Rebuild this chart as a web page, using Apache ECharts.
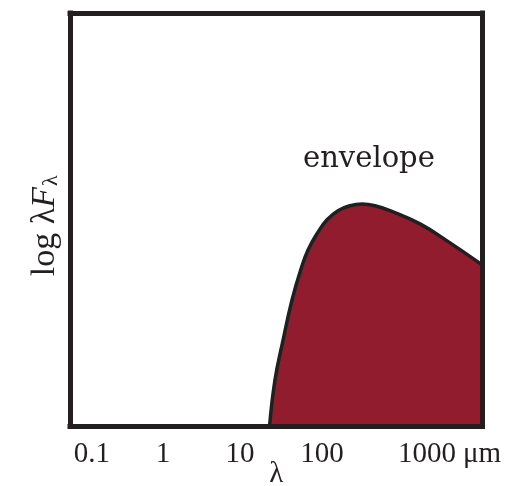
<!DOCTYPE html>
<html><head><meta charset="utf-8">
<script src="https://cdn.jsdelivr.net/npm/echarts@6/dist/echarts.min.js"></script>
<style>html,body{margin:0;padding:0;background:#fff}#c{width:509px;height:486px}</style>
</head><body><div id="c"></div>
<script>
// schematic SED of the envelope (x: log10 wavelength position, y: log lambda F_lambda, arbitrary units)
const logLambda = [1.247, 1.313, 1.410, 1.518, 1.623, 1.711, 1.831, 1.940, 2.072, 2.217, 2.361, 2.518, 2.699, 3.060, 3.422, 3.813];
const logFlux   = [0.00, 1.13, 2.09, 3.06, 3.79, 4.27, 4.70, 5.00, 5.22, 5.34, 5.38, 5.34, 5.22, 4.90, 4.44, 3.90];
const tickPos = [-0.892, -0.036, 0.892, 1.880, 3.145];
const tickLabels = ['0.1', '1', '10', '100', '1000'];
const unitLabel = 'μm';
const annotation = 'envelope';
const xMin = -1.157, xMax = 3.813, yMin = 0, yMax = 10;

const ink = '#231f20';
const serif = '"Liberation Serif", "DejaVu Serif", serif';
const border = { show: true, onZero: false, lineStyle: { color: ink, width: 5, cap: 'square' } };

const chart = echarts.init(document.getElementById('c'), null, { renderer: 'canvas' });
chart.setOption({
  animation: false,
  backgroundColor: '#fff',
  grid: { left: 70, right: 26.5, top: 13, bottom: 59.5, containLabel: false, outerBoundsMode: 'none' },
  xAxis: [{
    type: 'value', min: xMin, max: xMax, position: 'bottom', z: 10,
    axisLine: border, axisTick: { show: false }, splitLine: { show: false },
    axisLabel: {
      customValues: tickPos, margin: 13,
      color: ink, fontFamily: serif, fontSize: 29,
      formatter: function (v) {
        let best = 0;
        tickPos.forEach((p, i) => { if (Math.abs(p - v) < Math.abs(tickPos[best] - v)) best = i; });
        return tickLabels[best];
      }
    },
    name: 'λ', nameLocation: 'middle', nameGap: 33, nameMoveOverlap: false,
    nameTextStyle: { color: ink, fontFamily: serif, fontSize: 29, verticalAlign: 'top' }
  }, {
    type: 'value', min: xMin, max: xMax, position: 'top', z: 10,
    axisLine: border, axisTick: { show: false }, axisLabel: { show: false }, splitLine: { show: false }
  }],
  yAxis: [{
    type: 'value', min: yMin, max: yMax, position: 'left', z: 10,
    axisLine: border, axisTick: { show: false }, axisLabel: { show: false }, splitLine: { show: false },
    name: '{a|log λ}{f|F}{s|λ}', nameLocation: 'middle', nameGap: 8, nameMoveOverlap: false,
    nameTextStyle: {
      color: ink, fontFamily: serif, fontSize: 34, padding: [0, 12, 0, 0],
      rich: {
        a: { fontFamily: serif, fontSize: 34, color: ink },
        f: { fontFamily: serif, fontSize: 34, fontStyle: 'italic', color: ink },
        s: { fontFamily: serif, fontSize: 22, color: ink, verticalAlign: 'bottom', padding: [0, 0, 0, 1] }
      }
    }
  }, {
    type: 'value', min: yMin, max: yMax, position: 'right', z: 10,
    axisLine: border, axisTick: { show: false }, axisLabel: { show: false }, splitLine: { show: false }
  }],
  graphic: [
    { type: 'text', left: 463, top: 440, z: 20,
      style: { text: unitLabel, fill: ink, font: '29px ' + serif } },
    { type: 'text', left: 303, top: 145, z: 20,
      style: { text: annotation, fill: ink, font: '29px "DejaVu Serif", serif' } }
  ],
  series: [{
    type: 'line',
    data: logLambda.map((x, i) => [x, logFlux[i]]),
    smooth: 0.45,
    showSymbol: false,
    lineStyle: { color: ink, width: 3.5 },
    areaStyle: { color: '#911c2d', opacity: 1 },
    z: 2
  }]
});
</script>
</body></html>
